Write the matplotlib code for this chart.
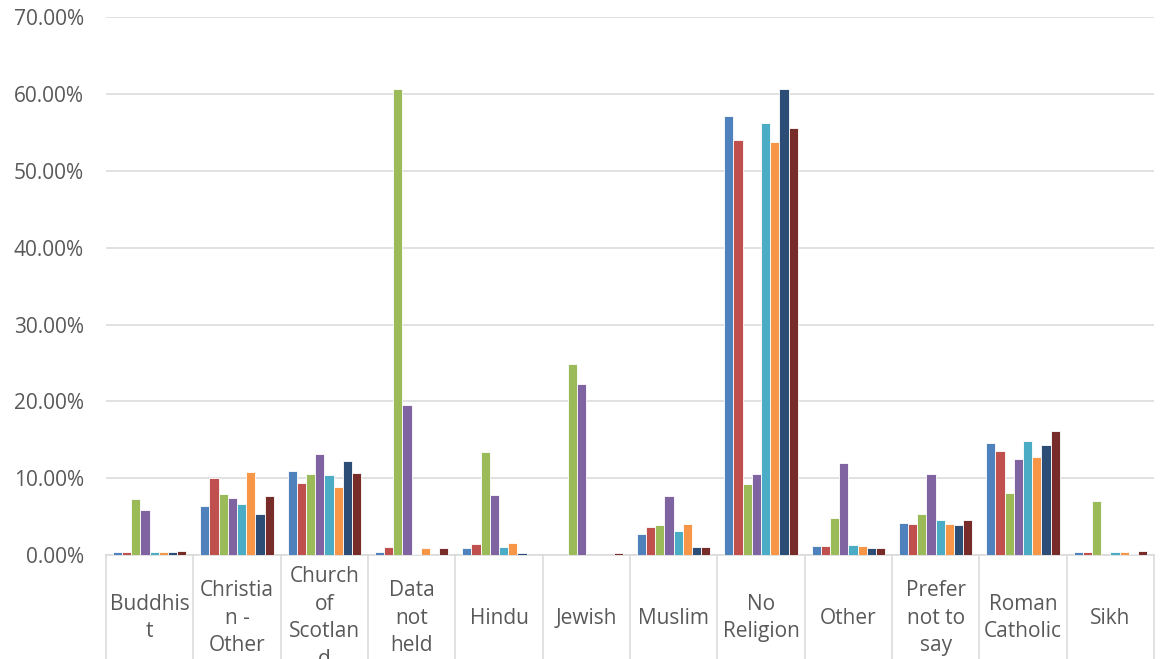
import matplotlib
matplotlib.use("Agg")
import matplotlib.pyplot as plt
import matplotlib.transforms as mtransforms
from matplotlib.ticker import FuncFormatter, MultipleLocator
import numpy as np

categories = ["Buddhist", "Christian - Other", "Church of Scotland", "Data not held",
              "Hindu", "Jewish", "Muslim", "No Religion", "Other",
              "Prefer not to say", "Roman Catholic", "Sikh"]

# category labels as wrapped on the axis
tick_labels = ["Buddhis\nt", "Christia\nn -\nOther", "Church\nof\nScotlan\nd", "Data\nnot\nheld",
               "Hindu", "Jewish", "Muslim", "No\nReligion", "Other",
               "Prefer\nnot to\nsay", "Roman\nCatholic", "Sikh"]

# percentage of each group, one list per series
series_1 = [0.35, 6.35, 10.9, 0.35, 0.95, 0.0, 2.7, 57.1, 1.15, 4.2, 14.6, 0.35]
series_2 = [0.35, 10.0, 9.35, 1.05, 1.4, 0.05, 3.65, 54.05, 1.2, 4.1, 13.5, 0.4]
series_3 = [7.3, 7.9, 10.5, 60.7, 13.35, 24.9, 3.9, 9.2, 4.8, 5.3, 8.05, 7.05]
series_4 = [5.8, 7.4, 13.1, 19.5, 7.75, 22.2, 7.7, 10.6, 11.95, 10.55, 12.45, 0.0]
series_5 = [0.35, 6.7, 10.4, 0.17, 1.0, 0.05, 3.1, 56.3, 1.3, 4.5, 14.8, 0.4]
series_6 = [0.35, 10.8, 8.9, 0.95, 1.55, 0.05, 4.1, 53.8, 1.2, 4.0, 12.8, 0.45]
series_7 = [0.35, 5.3, 12.3, 0.0, 0.2, 0.0, 1.0, 60.65, 0.95, 3.95, 14.3, 0.17]
series_8 = [0.5, 7.7, 10.65, 0.87, 0.05, 0.3, 1.1, 55.6, 0.87, 4.6, 16.1, 0.5]

all_series = [series_1, series_2, series_3, series_4, series_5, series_6, series_7, series_8]
colors = ["#4F81BD", "#C0504D", "#9BBB59", "#8064A2", "#4BACC6", "#F79646", "#2C4D75", "#772C2A"]

W, H = 1162, 659
fig = plt.figure(figsize=(W / 100, H / 100), dpi=100)
ax = fig.add_axes([106 / W, (H - 555) / H, (1154 - 106) / W, (555 - 17.3) / H])

text_color = "#595959"
grid_color = "#D9D9D9"
font = "Open Sans"

x = np.arange(len(categories))
slot = 0.105
n = len(all_series)
for k, (vals, col) in enumerate(zip(all_series, colors)):
    v = np.array(vals) / 100.0
    ax.bar(x + (k - (n - 1) / 2) * slot, v, width=slot, color=col,
           edgecolor="white", linewidth=0.6, zorder=3)

ax.set_xlim(-0.5, len(categories) - 0.5)
ax.set_ylim(0, 0.70)
ax.yaxis.set_major_locator(MultipleLocator(0.10))
ax.yaxis.set_major_formatter(FuncFormatter(lambda v, p: f"{v * 100:.2f}%"))
ax.grid(axis="y", color=grid_color, linewidth=1.1, zorder=0)
ax.set_axisbelow(True)

for s in ["top", "right", "left"]:
    ax.spines[s].set_visible(False)
ax.spines["bottom"].set_color(grid_color)
ax.spines["bottom"].set_linewidth(1.1)

ax.tick_params(axis="y", length=0, pad=16, labelsize=15, labelcolor=text_color)
for lab in ax.get_yticklabels():
    lab.set_fontfamily(font)
ax.set_xticks([])

# category separators running down through the label area
blend_axes = mtransforms.blended_transform_factory(ax.transData, ax.transAxes)
for b in np.arange(-0.5, len(categories), 1.0):
    ax.plot([b, b], [0, -0.25], transform=blend_axes, color=grid_color,
            linewidth=1.1, clip_on=False, zorder=1)

# category labels, vertically centred in the label band
blend_fig = mtransforms.blended_transform_factory(ax.transData, fig.transFigure)
for i, lab in enumerate(tick_labels):
    ax.text(i, 41 / H, lab, transform=blend_fig, ha="center", va="center",
            multialignment="center", fontsize=15, color=text_color,
            family=font, linespacing=1.43, clip_on=False)

fig.savefig("out.png", dpi=100)
